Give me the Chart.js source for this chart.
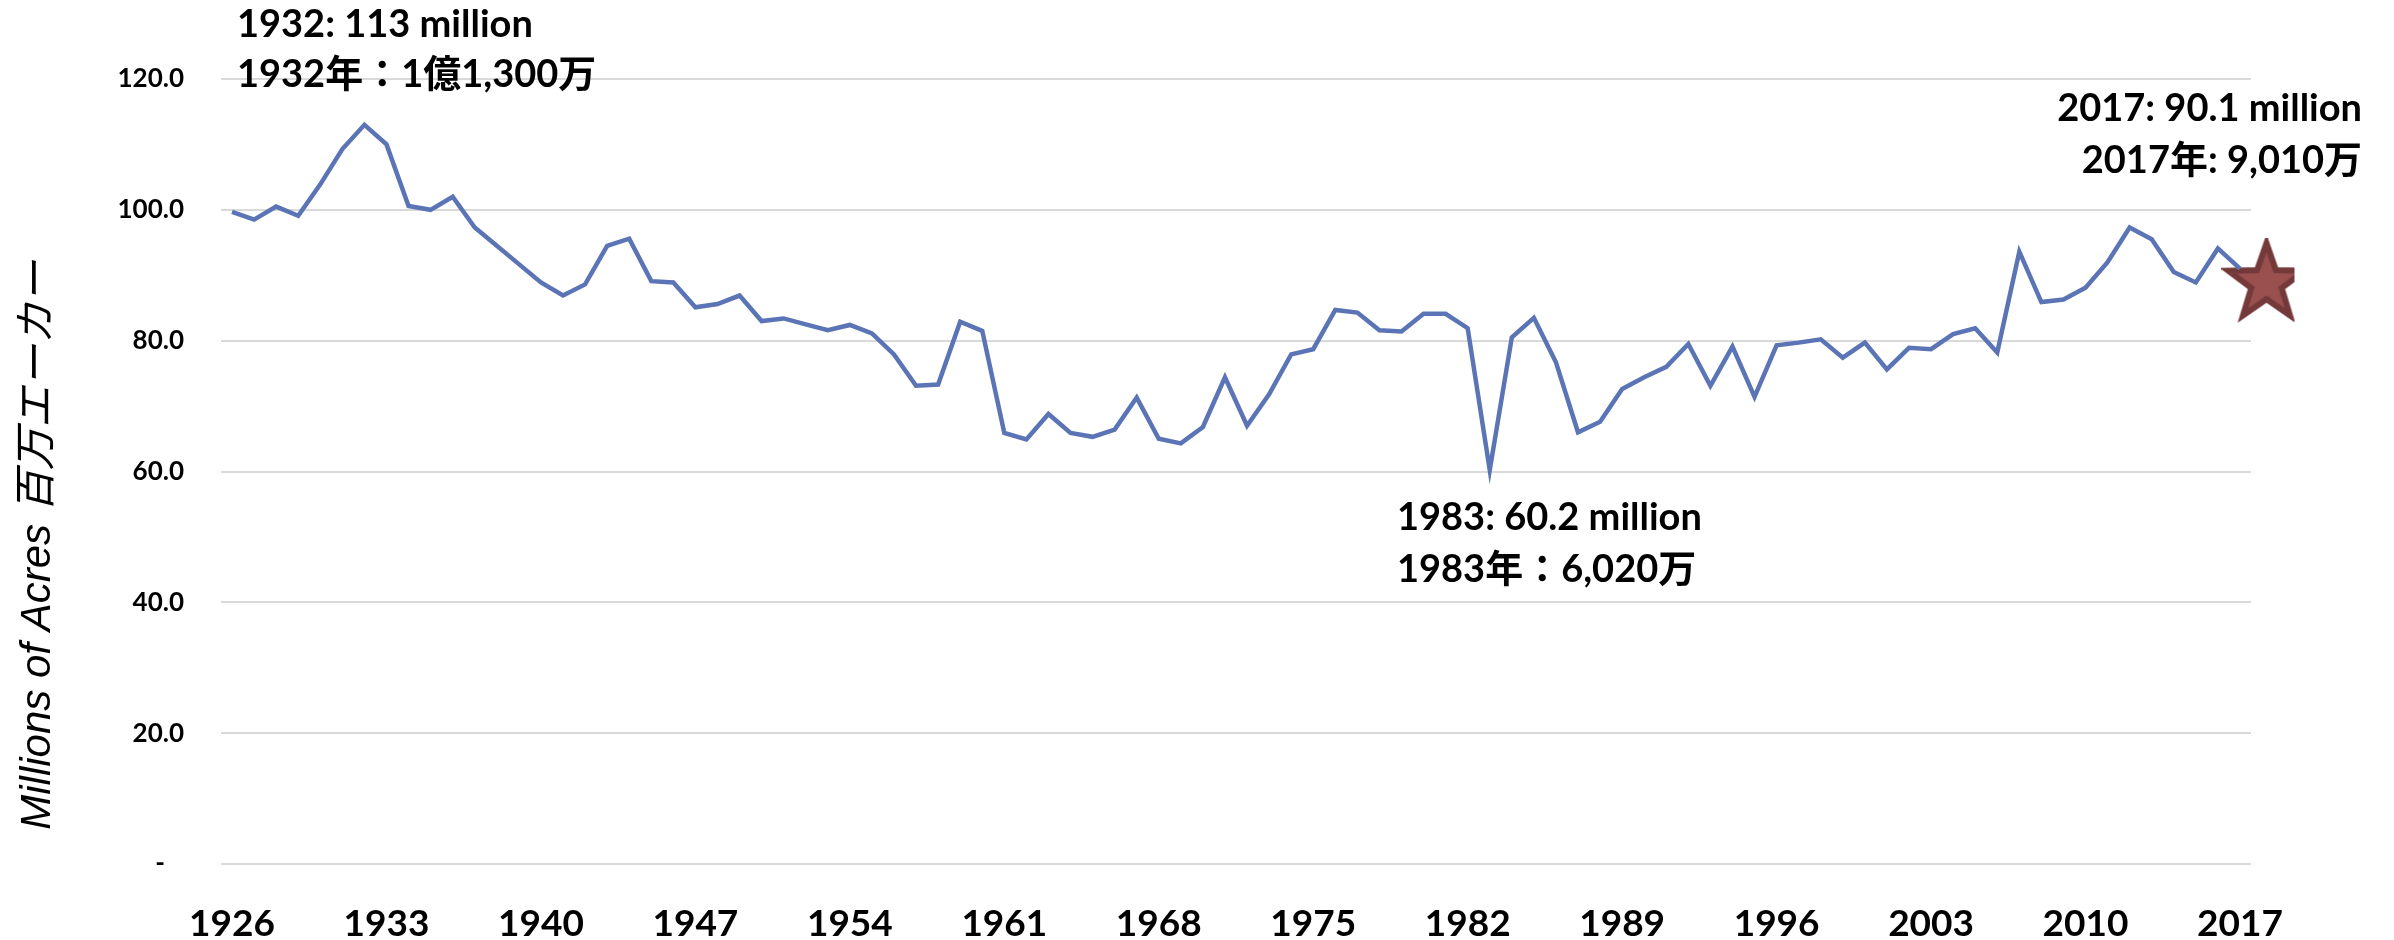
<!DOCTYPE html>
<html>
<head>
<meta charset="utf-8">
<script src="https://cdn.jsdelivr.net/npm/chart.js@4"></script>
<style>
  html, body { margin: 0; padding: 0; background: #fff; }
</style>
</head>
<body>
<canvas id="chart" width="2394" height="940"></canvas>
<script>
// cropland acres by year, millions
const years = [
  1926, 1927, 1928, 1929, 1930, 1931, 1932, 1933, 1934, 1935,
  1936, 1937, 1938, 1939, 1940, 1941, 1942, 1943, 1944, 1945,
  1946, 1947, 1948, 1949, 1950, 1951, 1952, 1953, 1954, 1955,
  1956, 1957, 1958, 1959, 1960, 1961, 1962, 1963, 1964, 1965,
  1966, 1967, 1968, 1969, 1970, 1971, 1972, 1973, 1974, 1975,
  1976, 1977, 1978, 1979, 1980, 1981, 1982, 1983, 1984, 1985,
  1986, 1987, 1988, 1989, 1990, 1991, 1992, 1993, 1994, 1995,
  1996, 1997, 1998, 1999, 2000, 2001, 2002, 2003, 2004, 2005,
  2006, 2007, 2008, 2009, 2010, 2011, 2012, 2013, 2014, 2015,
  2016, 2017
];
const acres = [
  99.7, 98.5, 100.5, 99.1, 103.9, 109.3, 113.0, 110.0, 100.6, 100.0,
  102.0, 97.3, 94.5, 91.7, 88.9, 86.9, 88.6, 94.5, 95.6, 89.1,
  88.9, 85.1, 85.6, 86.9, 83.0, 83.4, 82.5, 81.6, 82.4, 81.1,
  77.9, 73.1, 73.3, 82.9, 81.5, 65.9, 64.9, 68.8, 65.9, 65.3,
  66.4, 71.3, 65.0, 64.3, 66.8, 74.4, 67.0, 71.8, 77.9, 78.7,
  84.7, 84.3, 81.6, 81.4, 84.1, 84.1, 81.9, 60.2, 80.5, 83.5,
  76.7, 66.0, 67.6, 72.6, 74.4, 76.0, 79.5, 73.1, 79.1, 71.4,
  79.3, 79.7, 80.2, 77.4, 79.7, 75.6, 78.9, 78.7, 81.0, 81.9,
  78.2, 93.6, 85.9, 86.3, 88.1, 92.0, 97.3, 95.5, 90.5, 88.9,
  94.1, 91.0
];
// the star marker sits just right of the last year
const starX = [2018.2];
const starY = [88.8];

const tickYears = [1926, 1933, 1940, 1947, 1954, 1961, 1968, 1975, 1982, 1989, 1996, 2003, 2010, 2017];
const yTicks = [0, 20, 40, 60, 80, 100, 120];

const notes = [
  { lines: ['1932: 113 million', '1932年：1億1,300万'], x: 237, y: [37, 87], align: 'left' },
  { lines: ['1983: 60.2 million', '1983年：6,020万'], x: 1397, y: [530, 582], align: 'left' },
  { lines: ['2017: 90.1 million', '2017年: 9,010万'], x: 2362, y: [121, 173], align: 'right' }
];

const boldFont = '"Lato", "Noto Sans CJK JP", sans-serif';

function makeStar(R) {
  const size = Math.ceil(R * 2 + 10);
  const c = document.createElement('canvas');
  c.width = size; c.height = size;
  const g = c.getContext('2d');
  const cx = size / 2, cy = size / 2, r = R * 0.4;
  g.beginPath();
  for (let i = 0; i < 10; i++) {
    const rad = i % 2 === 0 ? R : r;
    const a = -Math.PI / 2 + i * Math.PI / 5;
    const px = cx + rad * Math.cos(a), py = cy + rad * Math.sin(a);
    if (i === 0) g.moveTo(px, py); else g.lineTo(px, py);
  }
  g.closePath();
  g.fillStyle = '#9b5050';
  g.fill();
  g.lineJoin = 'miter';
  g.lineWidth = 6;
  g.strokeStyle = '#743a3a';
  g.stroke();
  // right arm is cut off in the original
  g.clearRect(cx + 28, 0, size, size);
  return c;
}
const star = makeStar(40);

const textLayer = {
  id: 'textLayer',
  afterDraw(chart) {
    const ctx = chart.ctx;
    ctx.save();
    // y axis title
    ctx.translate(38, 545);
    ctx.rotate(-Math.PI / 2);
    ctx.font = 'italic 42px "Liberation Sans", "Noto Sans CJK JP", sans-serif';
    ctx.fillStyle = '#000';
    ctx.textAlign = 'center';
    ctx.textBaseline = 'middle';
    ctx.fillText('Millions of Acres 百万エーカー', 0, 0);
    ctx.restore();

    ctx.save();
    ctx.font = 'bold 38px ' + boldFont;
    ctx.fillStyle = '#000';
    ctx.textBaseline = 'alphabetic';
    notes.forEach(n => {
      ctx.textAlign = n.align;
      n.lines.forEach((t, i) => ctx.fillText(t, n.x, n.y[i]));
    });
    ctx.restore();
  }
};

new Chart(document.getElementById('chart'), {
  type: 'line',
  data: {
    datasets: [
      {
        data: years.map((y, i) => ({ x: y, y: acres[i] })),
        borderColor: '#5b74b5',
        borderWidth: 4.5,
        pointRadius: 0,
        tension: 0,
        fill: false
      },
      {
        data: starX.map((x, i) => ({ x: x, y: starY[i] })),
        showLine: false,
        pointStyle: star,
        pointRadius: 40,
        clip: false
      }
    ]
  },
  options: {
    responsive: false,
    devicePixelRatio: 1,
    animation: false,
    layout: { padding: { top: 79, right: 143, left: 0, bottom: 0 } },
    plugins: { legend: { display: false }, tooltip: { enabled: false } },
    scales: {
      x: {
        type: 'linear',
        min: 1925.5,
        max: 2017.5,
        afterBuildTicks: s => { s.ticks = tickYears.map(v => ({ value: v })); },
        afterFit: s => { s.height = 76; },
        grid: { display: false },
        border: { display: false },
        ticks: {
          autoSkip: false,
          maxRotation: 0,
          padding: 30,
          color: '#000',
          font: { family: boldFont, weight: 'bold', size: 37 },
          callback: v => String(v)
        }
      },
      y: {
        min: 0,
        max: 120,
        afterBuildTicks: s => { s.ticks = yTicks.map(v => ({ value: v })); },
        afterFit: s => { s.width = 221; },
        grid: { color: '#d9d9d9', lineWidth: 2, drawTicks: false },
        border: { display: false },
        ticks: {
          padding: 37,
          color: '#000',
          font: { family: boldFont, weight: 'bold', size: 26 },
          callback: v => v === 0 ? '-   ' : v.toFixed(1)
        }
      }
    }
  },
  plugins: [textLayer]
});
</script>
</body>
</html>
